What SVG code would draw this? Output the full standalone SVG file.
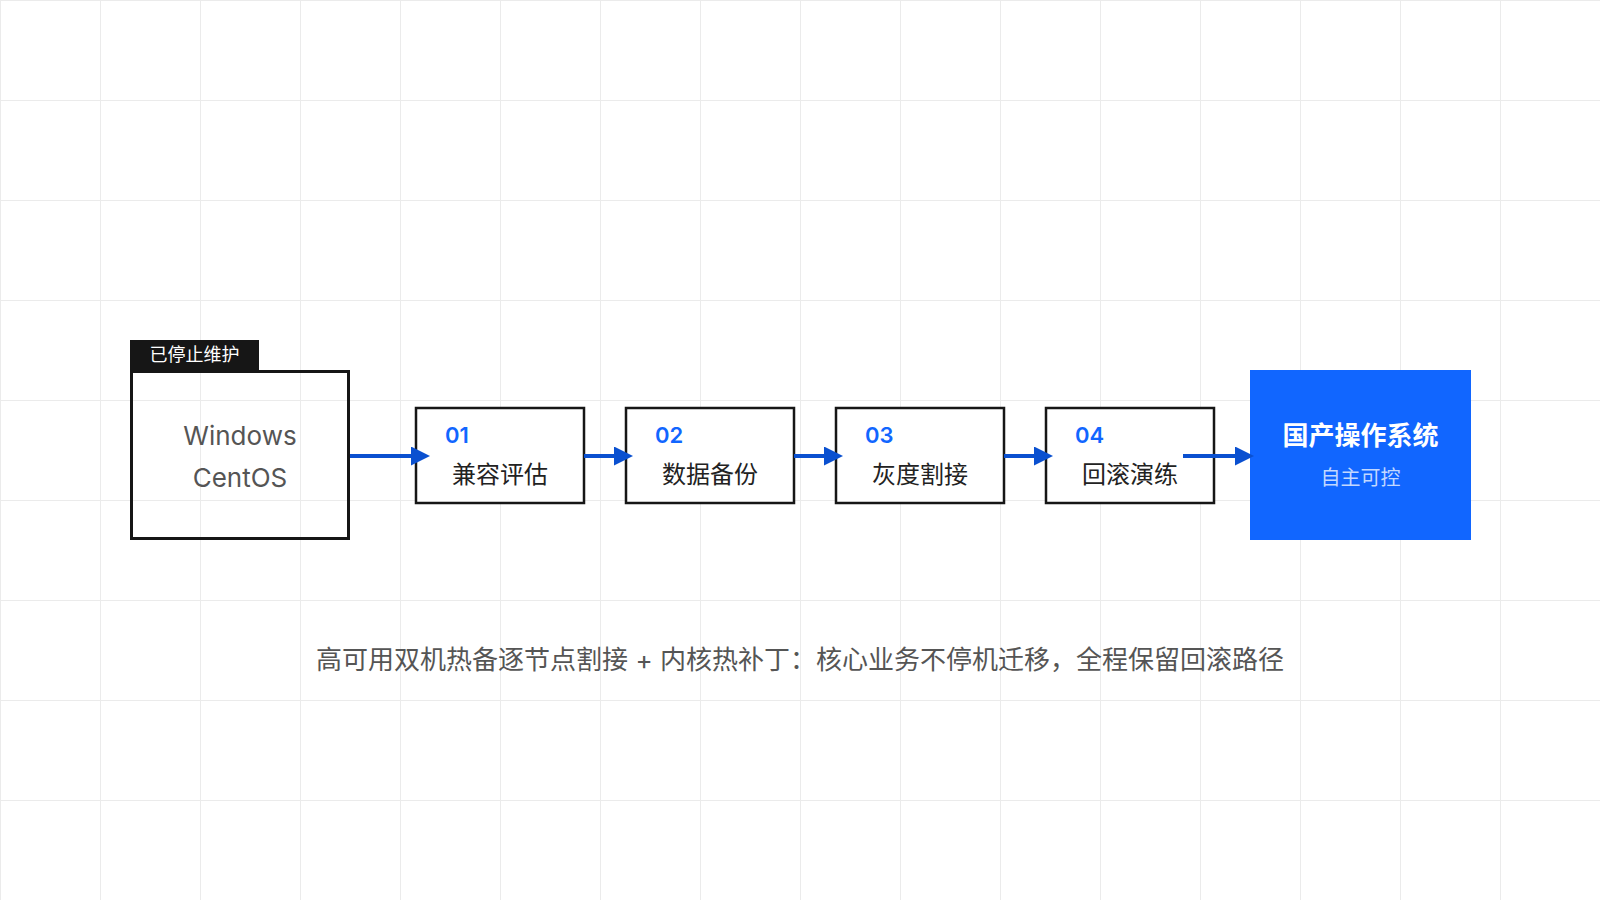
<svg xmlns="http://www.w3.org/2000/svg" width="1600" height="900" viewBox="0 0 1600 900">
  <defs>
    <pattern id="grid" x="0" y="0" width="100" height="100" patternUnits="userSpaceOnUse">
      <path d="M0.5,0 V100 M0,0.5 H100" fill="none" stroke="#ebebeb" stroke-width="1"/>
    </pattern>
    <marker id="arrow" markerUnits="userSpaceOnUse" markerWidth="19" markerHeight="19" refX="0" refY="9.5" orient="auto">
      <path d="M0,0 L19,9.5 L0,19 Z" fill="#0a50d0"/>
    </marker>
    <style>
      text { font-family: "Inter", "Noto Sans CJK SC", "Noto Sans", sans-serif; }
      .step { fill: #ffffff; stroke: #161616; stroke-width: 2.5; }
      .num { font-size: 22px; font-weight: 600; fill: #1166ff; }
      .lbl { font-size: 24px; fill: #222222; text-anchor: middle; }
      .legacy { font-size: 26px; fill: #555555; text-anchor: middle; }
      .conn { stroke: #0a50d0; stroke-width: 4; fill: none; marker-end: url(#arrow); }
    </style>
  </defs>
  <rect x="0" y="0" width="1600" height="900" fill="#ffffff"/>
  <rect x="0" y="0" width="1600" height="900" fill="url(#grid)"/>

  <g id="legacy">
    <rect x="131.5" y="371.5" width="217" height="167" fill="none" stroke="#161616" stroke-width="3"/>
    <rect x="130" y="340" width="129" height="31" fill="#161616"/>
    <text x="194.5" y="361" font-size="18" fill="#ffffff" text-anchor="middle">已停止维护</text>
    <text class="legacy" x="240" y="445">Windows</text>
    <text class="legacy" x="240" y="487">CentOS</text>
  </g>

  <g id="step1">
    <rect class="step" x="416" y="408" width="168" height="95"/>
    <text class="num" x="445" y="443">01</text>
    <text class="lbl" x="500" y="483">兼容评估</text>
  </g>
  <g id="step2">
    <rect class="step" x="626" y="408" width="168" height="95"/>
    <text class="num" x="655" y="443">02</text>
    <text class="lbl" x="710" y="483">数据备份</text>
  </g>
  <g id="step3">
    <rect class="step" x="836" y="408" width="168" height="95"/>
    <text class="num" x="865" y="443">03</text>
    <text class="lbl" x="920" y="483">灰度割接</text>
  </g>
  <g id="step4">
    <rect class="step" x="1046" y="408" width="168" height="95"/>
    <text class="num" x="1075" y="443">04</text>
    <text class="lbl" x="1130" y="483">回滚演练</text>
  </g>

  <g id="target">
    <rect x="1250" y="370" width="221" height="170" fill="#1166ff"/>
    <text x="1360.5" y="445" font-size="26" font-weight="700" fill="#ffffff" text-anchor="middle">国产操作系统</text>
    <text x="1360.5" y="485" font-size="20" fill="#ffffff" fill-opacity="0.75" text-anchor="middle">自主可控</text>
  </g>

  <g id="connectors">
    <line class="conn" x1="350" y1="456" x2="411" y2="456"/>
    <line class="conn" x1="584" y1="456" x2="614" y2="456"/>
    <line class="conn" x1="794" y1="456" x2="824" y2="456"/>
    <line class="conn" x1="1004" y1="456" x2="1034" y2="456"/>
    <line class="conn" x1="1183" y1="456" x2="1235" y2="456"/>
  </g>

  <g id="caption">
    <text x="800" y="669" font-size="26" fill="#555555" text-anchor="middle">高可用双机热备逐节点割接 + 内核热补丁：核心业务不停机迁移，全程保留回滚路径</text>
  </g>
</svg>
